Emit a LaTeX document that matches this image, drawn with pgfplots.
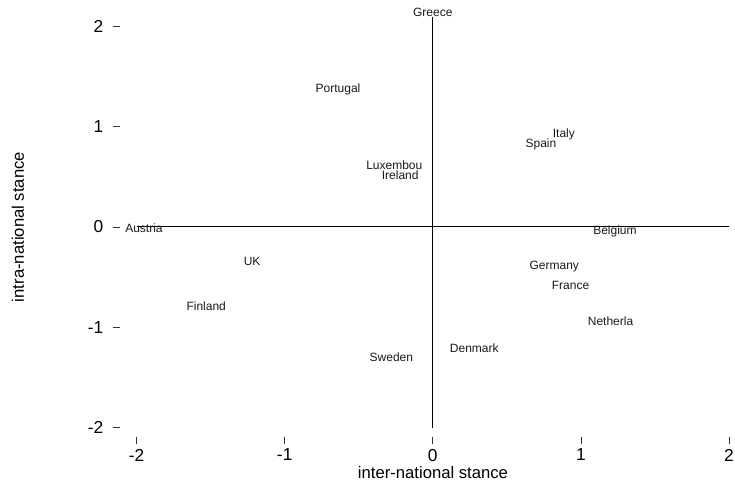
\documentclass[border=0pt]{standalone}
\usepackage{pgfplots}
\pgfplotsset{compat=1.18}
\usepackage{pgfplotstable}
\usepackage{fontspec}
\setmainfont{Liberation Sans}
\pgfplotstableread{
x y label
0.00 2.14 Greece
-0.64 1.37 Portugal
-0.26 0.615 Luxembou
-0.22 0.515 Ireland
0.885 0.92 Italy
0.73 0.82 Spain
-1.95 -0.01 Austria
1.23 -0.04 Belgium
-1.22 -0.34 UK
0.82 -0.39 Germany
0.93 -0.58 France
-1.53 -0.79 Finland
1.20 -0.94 Netherla
0.28 -1.21 Denmark
-0.28 -1.30 Sweden
}\countries
\begin{document}
\begin{tikzpicture}
\useasboundingbox (-90pt,-36pt) rectangle (461.25pt,327.75pt);
\begin{axis}[
  at={(0,0)}, anchor=south west,
  scale only axis, width=459pt, height=320.25pt,
  xmin=-2.112, xmax=2.02, ymin=-2.094, ymax=2.163,
  axis x line*=bottom, axis y line*=left,
  axis line style={draw=none},
  xtick={-2,-1,0,1,2}, ytick={-2,-1,0,1,2},
  tick align=outside,
  major tick length=5pt,
  tick style={black!80, line width=0.6pt},
  ticklabel style={font=\fontsize{13}{15}\selectfont},
  /pgf/number format/assume math mode=true,
  yticklabel style={xshift=-4pt},
  xticklabel style={yshift=-0.5pt},
  clip=false,
]
\addplot[black, line width=0.8pt, forget plot] coordinates {(-2,0) (2,0)};
\addplot[black, line width=0.8pt, forget plot] coordinates {(0,-2) (0,2.09)};
\addplot[only marks, mark=none, nodes near coords, point meta=explicit symbolic,
  nodes near coords style={anchor=center, inner sep=0pt, font=\fontsize{9}{10}\selectfont, text=black!90}]
  table[x=x, y=y, meta=label] {\countries};
\end{axis}
\node[font=\fontsize{12.5}{14}\selectfont] at (234.75pt,-27pt) {inter-national stance};
\node[font=\fontsize{12.5}{14}\selectfont, rotate=90] at (-76.5pt,157.5pt) {intra-national stance};
\end{tikzpicture}
\end{document}
